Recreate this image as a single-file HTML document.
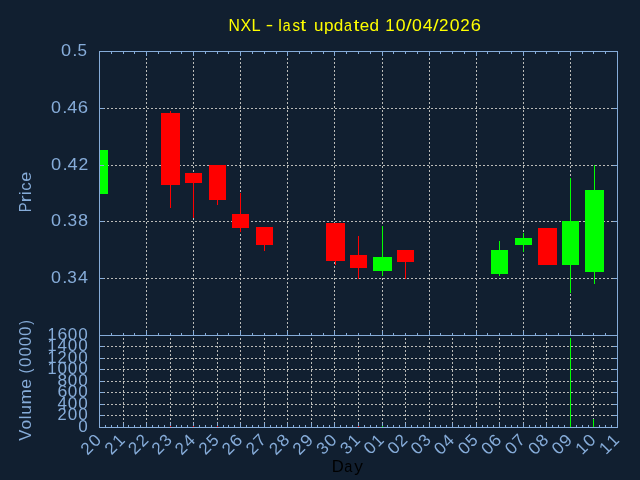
<!DOCTYPE html>
<html><head><meta charset="utf-8"><style>
html,body{margin:0;padding:0;background:#111f30;width:640px;height:480px;overflow:hidden}
svg{display:block;will-change:transform}
text{font-family:"Liberation Sans", sans-serif;font-size:16px}
</style></head><body>
<svg width="640" height="480" viewBox="0 0 640 480">
<rect x="0" y="0" width="640" height="480" fill="#111f30"/>
<g shape-rendering="crispEdges">
<path d="M99,108.5H618M99,165.5H618M99,221.5H618M99,278.5H618M99,346.5H618M99,358.5H618M99,369.5H618M99,381.5H618M99,392.5H618M99,404.5H618M99,415.5H618" stroke="#bbbbb8" stroke-width="1" stroke-dasharray="2 2" fill="none"/>
<path d="M146.5,336V51M193.5,336V51M240.5,336V51M287.5,336V51M334.5,336V51M382.5,336V51M429.5,336V51M476.5,336V51M523.5,336V51M570.5,336V51M123.5,428V335M146.5,428V335M170.5,428V335M193.5,428V335M217.5,428V335M240.5,428V335M264.5,428V335M287.5,428V335M311.5,428V335M334.5,428V335M358.5,428V335M382.5,428V335M405.5,428V335M429.5,428V335M452.5,428V335M476.5,428V335M499.5,428V335M523.5,428V335M546.5,428V335M570.5,428V335M593.5,428V335" stroke="#bbbbb8" stroke-width="1" stroke-dasharray="2 2" fill="none"/>
<rect x="100" y="150" width="8" height="44" fill="#00ff00"/>
<rect x="170" y="111" width="1" height="97" fill="#ff0000"/>
<rect x="161" y="113" width="19" height="72" fill="#ff0000"/>
<rect x="193" y="173" width="1" height="45" fill="#ff0000"/>
<rect x="185" y="173" width="17" height="10" fill="#ff0000"/>
<rect x="217" y="165" width="1" height="40" fill="#ff0000"/>
<rect x="209" y="165" width="17" height="35" fill="#ff0000"/>
<rect x="240" y="193" width="1" height="39" fill="#ff0000"/>
<rect x="232" y="214" width="17" height="14" fill="#ff0000"/>
<rect x="264" y="227" width="1" height="24" fill="#ff0000"/>
<rect x="256" y="227" width="17" height="18" fill="#ff0000"/>
<rect x="335" y="223" width="1" height="42" fill="#ff0000"/>
<rect x="326" y="223" width="19" height="38" fill="#ff0000"/>
<rect x="358" y="236" width="1" height="43" fill="#ff0000"/>
<rect x="350" y="255" width="17" height="13" fill="#ff0000"/>
<rect x="382" y="226" width="1" height="50" fill="#00ff00"/>
<rect x="373" y="257" width="19" height="14" fill="#00ff00"/>
<rect x="405" y="250" width="1" height="29" fill="#ff0000"/>
<rect x="397" y="250" width="17" height="12" fill="#ff0000"/>
<rect x="499" y="241" width="1" height="35" fill="#00ff00"/>
<rect x="491" y="250" width="17" height="24" fill="#00ff00"/>
<rect x="523" y="233" width="1" height="19" fill="#00ff00"/>
<rect x="515" y="238" width="17" height="7" fill="#00ff00"/>
<rect x="538" y="228" width="19" height="37" fill="#ff0000"/>
<rect x="570" y="178" width="1" height="115" fill="#00ff00"/>
<rect x="562" y="221" width="17" height="44" fill="#00ff00"/>
<rect x="594" y="165" width="1" height="119" fill="#00ff00"/>
<rect x="585" y="190" width="19" height="82" fill="#00ff00"/>
<rect x="99" y="51" width="519" height="1" fill="#86acd9"/>
<rect x="99" y="335" width="519" height="1" fill="#86acd9"/>
<rect x="99" y="427" width="519" height="1" fill="#86acd9"/>
<rect x="99" y="51" width="1" height="377" fill="#86acd9"/>
<rect x="617" y="51" width="1" height="377" fill="#86acd9"/>
<path d="M100,108.5h4M613,108.5h4M100,165.5h4M613,165.5h4M100,221.5h4M613,221.5h4M100,278.5h4M613,278.5h4M100,346.5h4M613,346.5h4M100,358.5h4M613,358.5h4M100,369.5h4M613,369.5h4M100,381.5h4M613,381.5h4M100,392.5h4M613,392.5h4M100,404.5h4M613,404.5h4M100,415.5h4M613,415.5h4M111.5,52v2M111.5,335v-2M123.5,52v2M123.5,335v-2M134.5,52v2M134.5,335v-2M146.5,52v4M146.5,335v-4M158.5,52v2M158.5,335v-2M170.5,52v2M170.5,335v-2M181.5,52v2M181.5,335v-2M193.5,52v4M193.5,335v-4M205.5,52v2M205.5,335v-2M217.5,52v2M217.5,335v-2M228.5,52v2M228.5,335v-2M240.5,52v4M240.5,335v-4M252.5,52v2M252.5,335v-2M264.5,52v2M264.5,335v-2M276.5,52v2M276.5,335v-2M287.5,52v4M287.5,335v-4M299.5,52v2M299.5,335v-2M311.5,52v2M311.5,335v-2M323.5,52v2M323.5,335v-2M334.5,52v4M334.5,335v-4M346.5,52v2M346.5,335v-2M358.5,52v2M358.5,335v-2M370.5,52v2M370.5,335v-2M382.5,52v4M382.5,335v-4M393.5,52v2M393.5,335v-2M405.5,52v2M405.5,335v-2M417.5,52v2M417.5,335v-2M429.5,52v4M429.5,335v-4M440.5,52v2M440.5,335v-2M452.5,52v2M452.5,335v-2M464.5,52v2M464.5,335v-2M476.5,52v4M476.5,335v-4M487.5,52v2M487.5,335v-2M499.5,52v2M499.5,335v-2M511.5,52v2M511.5,335v-2M523.5,52v4M523.5,335v-4M535.5,52v2M535.5,335v-2M546.5,52v2M546.5,335v-2M558.5,52v2M558.5,335v-2M570.5,52v4M570.5,335v-4M582.5,52v2M582.5,335v-2M593.5,52v2M593.5,335v-2M605.5,52v2M605.5,335v-2M105.5,427v-2M111.5,427v-2M117.5,427v-2M123.5,427v-4M128.5,427v-2M134.5,427v-2M140.5,427v-2M146.5,427v-4M152.5,427v-2M158.5,427v-2M164.5,427v-2M170.5,427v-4M176.5,427v-2M181.5,427v-2M187.5,427v-2M193.5,427v-4M199.5,427v-2M205.5,427v-2M211.5,427v-2M217.5,427v-4M223.5,427v-2M228.5,427v-2M234.5,427v-2M240.5,427v-4M246.5,427v-2M252.5,427v-2M258.5,427v-2M264.5,427v-4M270.5,427v-2M276.5,427v-2M281.5,427v-2M287.5,427v-4M293.5,427v-2M299.5,427v-2M305.5,427v-2M311.5,427v-4M317.5,427v-2M323.5,427v-2M329.5,427v-2M334.5,427v-4M340.5,427v-2M346.5,427v-2M352.5,427v-2M358.5,427v-4M364.5,427v-2M370.5,427v-2M376.5,427v-2M382.5,427v-4M387.5,427v-2M393.5,427v-2M399.5,427v-2M405.5,427v-4M411.5,427v-2M417.5,427v-2M423.5,427v-2M429.5,427v-4M435.5,427v-2M440.5,427v-2M446.5,427v-2M452.5,427v-4M458.5,427v-2M464.5,427v-2M470.5,427v-2M476.5,427v-4M482.5,427v-2M487.5,427v-2M493.5,427v-2M499.5,427v-4M505.5,427v-2M511.5,427v-2M517.5,427v-2M523.5,427v-4M529.5,427v-2M535.5,427v-2M540.5,427v-2M546.5,427v-4M552.5,427v-2M558.5,427v-2M564.5,427v-2M570.5,427v-4M576.5,427v-2M582.5,427v-2M588.5,427v-2M593.5,427v-4M599.5,427v-2M605.5,427v-2M611.5,427v-2" stroke="#86acd9" stroke-width="1" fill="none"/>
<rect x="170" y="426" width="1" height="1" fill="#ff0000"/>
<rect x="193" y="426" width="1" height="1" fill="#ff0000"/>
<rect x="217" y="426" width="1" height="1" fill="#ff0000"/>
<rect x="358" y="426" width="1" height="1" fill="#ff0000"/>
<rect x="382" y="426" width="1" height="1" fill="#00ff00"/>
<rect x="570" y="338" width="1" height="89" fill="#00ff00"/>
<rect x="593" y="419" width="1" height="8" fill="#00ff00"/>
<rect x="593" y="418" width="1" height="1" fill="#c0a0c8"/>
</g>
<g>
<text transform="translate(228.61,31.00) scale(0.985,1.060)" fill="#ffff00">N</text>
<text transform="translate(240.38,31.00) scale(0.998,1.060)" fill="#ffff00">X</text>
<text transform="translate(251.42,31.00) scale(1.026,1.060)" fill="#ffff00">L</text>
<text transform="translate(265.81,30.00) scale(1.395,1.030)" fill="#ffff00" stroke="none">-</text>
<text transform="translate(278.31,31.00) scale(1.008,1.049)" fill="#ffff00">l</text>
<text transform="translate(282.64,31.00) scale(0.887,1.041)" fill="#ffff00">a</text>
<text transform="translate(292.40,31.00) scale(0.945,1.044)" fill="#ffff00">s</text>
<text transform="translate(300.29,31.00) scale(1.318,1.086)" fill="#ffff00">t</text>
<text transform="translate(313.89,31.00) scale(1.064,1.060)" fill="#ffff00">u</text>
<text transform="translate(324.00,31.00) scale(1.074,1.042)" fill="#ffff00">p</text>
<text transform="translate(333.84,31.00) scale(1.073,1.049)" fill="#ffff00">d</text>
<text transform="translate(344.07,31.00) scale(0.888,1.041)" fill="#ffff00">a</text>
<text transform="translate(353.50,31.00) scale(1.319,1.086)" fill="#ffff00">t</text>
<text transform="translate(359.74,31.00) scale(1.066,1.041)" fill="#ffff00">e</text>
<text transform="translate(369.46,31.00) scale(1.073,1.049)" fill="#ffff00">d</text>
<text transform="translate(385.21,31.00) scale(1.055,1.060)" fill="#ffff00">1</text>
<text transform="translate(395.74,31.00) scale(1.104,1.063)" fill="#ffff00">0</text>
<text transform="translate(405.98,31.00) scale(1.270,1.006)" fill="#ffff00">/</text>
<text transform="translate(412.05,31.00) scale(1.104,1.063)" fill="#ffff00">0</text>
<text transform="translate(422.71,31.00) scale(1.104,1.060)" fill="#ffff00">4</text>
<text transform="translate(432.96,31.00) scale(1.270,1.006)" fill="#ffff00">/</text>
<text transform="translate(438.97,31.00) scale(1.064,1.063)" fill="#ffff00">2</text>
<text transform="translate(449.68,31.00) scale(1.104,1.063)" fill="#ffff00">0</text>
<text transform="translate(460.30,31.00) scale(1.064,1.063)" fill="#ffff00">2</text>
<text transform="translate(470.83,31.00) scale(1.143,1.063)" fill="#ffff00">6</text>
<text transform="translate(60.89,56.00) scale(1.130,1.063)" fill="#86acd9">0</text>
<text transform="translate(72.32,56.00) scale(1.160,1.000)" fill="#86acd9">.</text>
<text transform="translate(77.48,56.00) scale(1.067,1.060)" fill="#86acd9">5</text>
<text transform="translate(50.90,113.00) scale(1.121,1.063)" fill="#86acd9">0</text>
<text transform="translate(62.24,113.00) scale(1.151,1.000)" fill="#86acd9">.</text>
<text transform="translate(67.14,113.00) scale(1.121,1.060)" fill="#86acd9">4</text>
<text transform="translate(77.79,113.00) scale(1.160,1.063)" fill="#86acd9">6</text>
<text transform="translate(50.89,170.00) scale(1.141,1.063)" fill="#86acd9">0</text>
<text transform="translate(62.42,170.00) scale(1.172,1.000)" fill="#86acd9">.</text>
<text transform="translate(67.42,170.00) scale(1.142,1.060)" fill="#86acd9">4</text>
<text transform="translate(78.39,170.00) scale(1.100,1.063)" fill="#86acd9">2</text>
<text transform="translate(50.90,226.00) scale(1.124,1.063)" fill="#86acd9">0</text>
<text transform="translate(62.27,226.00) scale(1.154,1.000)" fill="#86acd9">.</text>
<text transform="translate(67.40,226.00) scale(1.080,1.063)" fill="#86acd9">3</text>
<text transform="translate(77.98,226.00) scale(1.136,1.063)" fill="#86acd9">8</text>
<text transform="translate(50.90,283.00) scale(1.118,1.063)" fill="#86acd9">0</text>
<text transform="translate(62.21,283.00) scale(1.147,1.000)" fill="#86acd9">.</text>
<text transform="translate(67.30,283.00) scale(1.073,1.063)" fill="#86acd9">3</text>
<text transform="translate(77.88,283.00) scale(1.118,1.060)" fill="#86acd9">4</text>
<text transform="translate(47.41,340.00) scale(1.019,1.060)" fill="#86acd9">1</text>
<text transform="translate(57.40,340.00) scale(1.104,1.063)" fill="#86acd9">6</text>
<text transform="translate(67.87,340.00) scale(1.067,1.063)" fill="#86acd9">0</text>
<text transform="translate(78.17,340.00) scale(1.067,1.063)" fill="#86acd9">0</text>
<text transform="translate(47.41,351.00) scale(1.019,1.060)" fill="#86acd9">1</text>
<text transform="translate(57.57,351.00) scale(1.067,1.060)" fill="#86acd9">4</text>
<text transform="translate(67.87,351.00) scale(1.067,1.063)" fill="#86acd9">0</text>
<text transform="translate(78.17,351.00) scale(1.067,1.063)" fill="#86acd9">0</text>
<text transform="translate(47.41,363.00) scale(1.019,1.060)" fill="#86acd9">1</text>
<text transform="translate(57.53,363.00) scale(1.028,1.063)" fill="#86acd9">2</text>
<text transform="translate(67.87,363.00) scale(1.067,1.063)" fill="#86acd9">0</text>
<text transform="translate(78.17,363.00) scale(1.067,1.063)" fill="#86acd9">0</text>
<text transform="translate(47.41,374.00) scale(1.019,1.060)" fill="#86acd9">1</text>
<text transform="translate(57.57,374.00) scale(1.067,1.063)" fill="#86acd9">0</text>
<text transform="translate(67.87,374.00) scale(1.067,1.063)" fill="#86acd9">0</text>
<text transform="translate(78.17,374.00) scale(1.067,1.063)" fill="#86acd9">0</text>
<text transform="translate(57.52,386.00) scale(1.078,1.063)" fill="#86acd9">8</text>
<text transform="translate(67.87,386.00) scale(1.067,1.063)" fill="#86acd9">0</text>
<text transform="translate(78.17,386.00) scale(1.067,1.063)" fill="#86acd9">0</text>
<text transform="translate(57.40,397.00) scale(1.104,1.063)" fill="#86acd9">6</text>
<text transform="translate(67.87,397.00) scale(1.067,1.063)" fill="#86acd9">0</text>
<text transform="translate(78.17,397.00) scale(1.067,1.063)" fill="#86acd9">0</text>
<text transform="translate(57.57,409.00) scale(1.067,1.060)" fill="#86acd9">4</text>
<text transform="translate(67.87,409.00) scale(1.067,1.063)" fill="#86acd9">0</text>
<text transform="translate(78.17,409.00) scale(1.067,1.063)" fill="#86acd9">0</text>
<text transform="translate(57.53,420.00) scale(1.028,1.063)" fill="#86acd9">2</text>
<text transform="translate(67.87,420.00) scale(1.067,1.063)" fill="#86acd9">0</text>
<text transform="translate(78.17,420.00) scale(1.067,1.063)" fill="#86acd9">0</text>
<text transform="translate(78.17,432.00) scale(1.067,1.063)" fill="#86acd9">0</text>
<text transform="translate(30.6,0) rotate(-90) translate(-212.21,0.00) scale(0.923,1.060)" fill="#86acd9">P</text>
<text transform="translate(30.6,0) rotate(-90) translate(-202.47,0.00) scale(1.337,1.041)" fill="#86acd9">r</text>
<text transform="translate(30.6,0) rotate(-90) translate(-195.27,0.00) scale(1.067,1.049)" fill="#86acd9">i</text>
<text transform="translate(30.6,0) rotate(-90) translate(-190.86,0.00) scale(1.047,1.041)" fill="#86acd9">c</text>
<text transform="translate(30.6,0) rotate(-90) translate(-181.73,0.00) scale(1.127,1.041)" fill="#86acd9">e</text>
<text transform="translate(30.6,0) rotate(-90) translate(-440.67,0.00) scale(1.033,1.060)" fill="#86acd9">V</text>
<text transform="translate(30.6,0) rotate(-90) translate(-429.42,0.00) scale(1.082,1.041)" fill="#86acd9">o</text>
<text transform="translate(30.6,0) rotate(-90) translate(-419.22,0.00) scale(1.040,1.049)" fill="#86acd9">l</text>
<text transform="translate(30.6,0) rotate(-90) translate(-414.86,0.00) scale(1.097,1.060)" fill="#86acd9">u</text>
<text transform="translate(30.6,0) rotate(-90) translate(-404.54,0.00) scale(1.159,1.041)" fill="#86acd9">m</text>
<text transform="translate(30.6,0) rotate(-90) translate(-388.78,0.00) scale(1.099,1.041)" fill="#86acd9">e</text>
<text transform="translate(30.6,0) rotate(-90) translate(-373.19,0.00) scale(0.860,1.047)" fill="#86acd9">(</text>
<text transform="translate(30.6,0) rotate(-90) translate(-366.98,0.00) scale(1.073,1.063)" fill="#86acd9">0</text>
<text transform="translate(30.6,0) rotate(-90) translate(-356.62,0.00) scale(1.073,1.063)" fill="#86acd9">0</text>
<text transform="translate(30.6,0) rotate(-90) translate(-346.27,0.00) scale(1.073,1.063)" fill="#86acd9">0</text>
<text transform="translate(30.6,0) rotate(-90) translate(-335.91,0.00) scale(1.073,1.063)" fill="#86acd9">0</text>
<text transform="translate(30.6,0) rotate(-90) translate(-324.73,0.00) scale(0.860,1.047)" fill="#86acd9">)</text>
<text transform="translate(331.73,472.00) scale(1.043,1.060)" fill="#000000">D</text>
<text transform="translate(344.29,472.00) scale(0.907,1.041)" fill="#000000">a</text>
<text transform="translate(354.27,472.00) scale(1.083,1.035)" fill="#000000">y</text>
<text transform="translate(102.20,441.10) rotate(-45) translate(-20.63,0.00) scale(1.067,1.063)" fill="#86acd9">2</text>
<text transform="translate(102.20,441.10) rotate(-45) translate(-9.90,0.00) scale(1.107,1.063)" fill="#86acd9">0</text>
<text transform="translate(125.75,441.10) rotate(-45) translate(-20.19,0.00) scale(1.067,1.063)" fill="#86acd9">2</text>
<text transform="translate(125.75,441.10) rotate(-45) translate(-9.32,0.00) scale(1.057,1.060)" fill="#86acd9">1</text>
<text transform="translate(149.29,441.10) rotate(-45) translate(-20.06,0.00) scale(1.067,1.063)" fill="#86acd9">2</text>
<text transform="translate(149.29,441.10) rotate(-45) translate(-9.38,0.00) scale(1.067,1.063)" fill="#86acd9">2</text>
<text transform="translate(172.84,441.10) rotate(-45) translate(-20.40,0.00) scale(1.067,1.063)" fill="#86acd9">2</text>
<text transform="translate(172.84,441.10) rotate(-45) translate(-9.45,0.00) scale(1.063,1.063)" fill="#86acd9">3</text>
<text transform="translate(196.38,441.10) rotate(-45) translate(-20.80,0.00) scale(1.067,1.063)" fill="#86acd9">2</text>
<text transform="translate(196.38,441.10) rotate(-45) translate(-10.07,0.00) scale(1.107,1.060)" fill="#86acd9">4</text>
<text transform="translate(219.93,441.10) rotate(-45) translate(-20.28,0.00) scale(1.067,1.063)" fill="#86acd9">2</text>
<text transform="translate(219.93,441.10) rotate(-45) translate(-9.33,0.00) scale(1.045,1.060)" fill="#86acd9">5</text>
<text transform="translate(243.47,441.10) rotate(-45) translate(-20.69,0.00) scale(1.067,1.063)" fill="#86acd9">2</text>
<text transform="translate(243.47,441.10) rotate(-45) translate(-10.13,0.00) scale(1.146,1.063)" fill="#86acd9">6</text>
<text transform="translate(267.02,441.10) rotate(-45) translate(-20.31,0.00) scale(1.067,1.063)" fill="#86acd9">2</text>
<text transform="translate(267.02,441.10) rotate(-45) translate(-9.50,0.00) scale(1.083,1.060)" fill="#86acd9">7</text>
<text transform="translate(290.56,441.10) rotate(-45) translate(-20.60,0.00) scale(1.067,1.063)" fill="#86acd9">2</text>
<text transform="translate(290.56,441.10) rotate(-45) translate(-9.92,0.00) scale(1.119,1.063)" fill="#86acd9">8</text>
<text transform="translate(314.11,441.10) rotate(-45) translate(-20.56,0.00) scale(1.067,1.063)" fill="#86acd9">2</text>
<text transform="translate(314.11,441.10) rotate(-45) translate(-10.05,0.00) scale(1.143,1.063)" fill="#86acd9">9</text>
<text transform="translate(337.65,441.10) rotate(-45) translate(-20.37,0.00) scale(1.063,1.063)" fill="#86acd9">3</text>
<text transform="translate(337.65,441.10) rotate(-45) translate(-9.90,0.00) scale(1.107,1.063)" fill="#86acd9">0</text>
<text transform="translate(361.20,441.10) rotate(-45) translate(-19.94,0.00) scale(1.063,1.063)" fill="#86acd9">3</text>
<text transform="translate(361.20,441.10) rotate(-45) translate(-9.32,0.00) scale(1.057,1.060)" fill="#86acd9">1</text>
<text transform="translate(384.75,441.10) rotate(-45) translate(-20.15,0.00) scale(1.107,1.063)" fill="#86acd9">0</text>
<text transform="translate(384.75,441.10) rotate(-45) translate(-9.32,0.00) scale(1.057,1.060)" fill="#86acd9">1</text>
<text transform="translate(408.29,441.10) rotate(-45) translate(-20.02,0.00) scale(1.107,1.063)" fill="#86acd9">0</text>
<text transform="translate(408.29,441.10) rotate(-45) translate(-9.38,0.00) scale(1.067,1.063)" fill="#86acd9">2</text>
<text transform="translate(431.84,441.10) rotate(-45) translate(-20.36,0.00) scale(1.107,1.063)" fill="#86acd9">0</text>
<text transform="translate(431.84,441.10) rotate(-45) translate(-9.45,0.00) scale(1.063,1.063)" fill="#86acd9">3</text>
<text transform="translate(455.38,441.10) rotate(-45) translate(-20.76,0.00) scale(1.107,1.063)" fill="#86acd9">0</text>
<text transform="translate(455.38,441.10) rotate(-45) translate(-10.07,0.00) scale(1.107,1.060)" fill="#86acd9">4</text>
<text transform="translate(478.93,441.10) rotate(-45) translate(-20.23,0.00) scale(1.107,1.063)" fill="#86acd9">0</text>
<text transform="translate(478.93,441.10) rotate(-45) translate(-9.33,0.00) scale(1.045,1.060)" fill="#86acd9">5</text>
<text transform="translate(502.47,441.10) rotate(-45) translate(-20.64,0.00) scale(1.107,1.063)" fill="#86acd9">0</text>
<text transform="translate(502.47,441.10) rotate(-45) translate(-10.13,0.00) scale(1.146,1.063)" fill="#86acd9">6</text>
<text transform="translate(526.02,441.10) rotate(-45) translate(-20.27,0.00) scale(1.107,1.063)" fill="#86acd9">0</text>
<text transform="translate(526.02,441.10) rotate(-45) translate(-9.50,0.00) scale(1.083,1.060)" fill="#86acd9">7</text>
<text transform="translate(549.56,441.10) rotate(-45) translate(-20.55,0.00) scale(1.107,1.063)" fill="#86acd9">0</text>
<text transform="translate(549.56,441.10) rotate(-45) translate(-9.92,0.00) scale(1.119,1.063)" fill="#86acd9">8</text>
<text transform="translate(573.11,441.10) rotate(-45) translate(-20.52,0.00) scale(1.107,1.063)" fill="#86acd9">0</text>
<text transform="translate(573.11,441.10) rotate(-45) translate(-10.05,0.00) scale(1.143,1.063)" fill="#86acd9">9</text>
<text transform="translate(596.65,441.10) rotate(-45) translate(-20.44,0.00) scale(1.057,1.060)" fill="#86acd9">1</text>
<text transform="translate(596.65,441.10) rotate(-45) translate(-9.90,0.00) scale(1.107,1.063)" fill="#86acd9">0</text>
<text transform="translate(620.20,441.10) rotate(-45) translate(-20.01,0.00) scale(1.057,1.060)" fill="#86acd9">1</text>
<text transform="translate(620.20,441.10) rotate(-45) translate(-9.32,0.00) scale(1.057,1.060)" fill="#86acd9">1</text>
</g>
</svg>
</body></html>
